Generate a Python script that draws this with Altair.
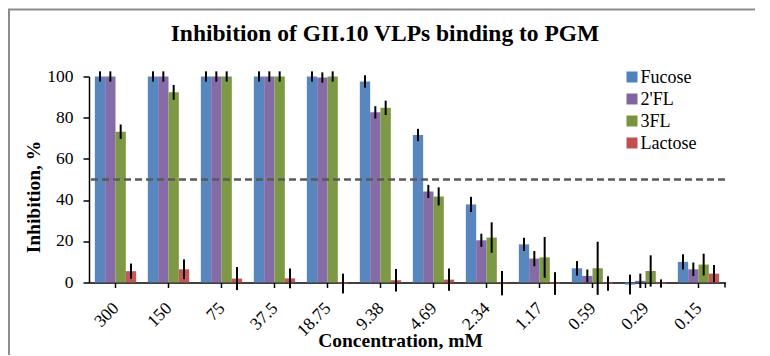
import altair as alt
import pandas as pd

# ---- data ----
concentrations = ["300", "150", "75", "37.5", "18.75", "9.38", "4.69", "2.34", "1.17", "0.59", "0.29", "0.15"]
series_names = ["Fucose", "2'FL", "3FL", "Lactose"]
series_colors = ["#4F81BD", "#8064A2", "#77933C", "#C0504D"]

fucose = [100, 100, 100, 100, 100, 97.6, 71.6, 37.9, 18.5, 6.9, -1.0, 10.0]
fucose_err = [2.5, 2.5, 2.5, 2.5, 2.5, 3.0, 3.0, 3.7, 3.2, 3.5, 4.8, 3.7]
fl2 = [100, 100, 100, 100, 99.5, 82.6, 44.2, 20.5, 11.6, 3.2, 0.8, 6.4]
fl2_err = [2.5, 2.5, 2.5, 2.5, 2.5, 3.0, 3.2, 3.2, 3.7, 3.1, 3.5, 3.3]
fl3 = [73.2, 92.3, 100, 100, 100, 84.8, 41.8, 21.8, 12.2, 6.9, 5.6, 8.7]
fl3_err = [3.5, 3.6, 2.5, 2.5, 2.5, 3.5, 4.4, 7.4, 9.9, 12.9, 7.6, 5.3]
lactose = [5.5, 6.4, 1.9, 2.0, -0.5, 1.1, 1.4, -0.3, -0.5, -0.5, -0.5, 4.3]
lactose_err = [3.7, 4.8, 5.6, 4.8, 4.8, 5.5, 5.4, 5.9, 5.5, 3.5, 2.0, 4.2]

y_ticks = [0, 20, 40, 60, 80, 100]
threshold = [50]
chart_title = "Inhibition of GII.10 VLPs binding to PGM"
x_title = "Concentration, mM"
y_title = "Inhibition, %"

values = [fucose, fl2, fl3, lactose]
errors = [fucose_err, fl2_err, fl3_err, lactose_err]

rows = []
for name, vals, errs in zip(series_names, values, errors):
    for c, v, e in zip(concentrations, vals, errs):
        rows.append({"conc": c, "series": name, "value": v, "lo": v - e, "hi": v + e})
df = pd.DataFrame(rows)

FONT = "Times New Roman, Liberation Serif, DejaVu Serif, serif"
W, H = 636, 206

x_scale = alt.Scale(paddingInner=0.22, paddingOuter=0.11)
y_scale = alt.Scale(domain=[0, 100], nice=False, zero=False)
color_scale = alt.Scale(domain=series_names, range=series_colors)

x_enc = alt.X(
    "conc:N",
    sort=concentrations,
    scale=x_scale,
    axis=alt.Axis(
        title=x_title,
        labels=False,
        tickSize=5,
        tickColor="black",
        tickWidth=1.5,
        domainColor="black",
        domainWidth=1.5,
        titleFont=FONT,
        titleFontSize=19.5,
        titleFontWeight="bold",
        titleColor="black",
        titleX=W / 2 - 7,
        titleY=58,
        titleBaseline="middle",
        titleAlign="center",
    ),
)
xoff = alt.XOffset("series:N", sort=series_names, scale=alt.Scale(paddingInner=0, paddingOuter=0))

y_axis = alt.Axis(
    title=y_title,
    values=y_ticks,
    grid=False,
    labels=False,
    tickSize=6,
    tickColor="black",
    tickWidth=1.5,
    domainColor="black",
    domainWidth=1.5,
    titleFont=FONT,
    titleFontSize=19.5,
    titleFontWeight="bold",
    titleColor="black",
    titleAngle=270,
    titleX=-56,
    titleY=120,
    titleAlign="center",
    titleBaseline="middle",
)

base = alt.Chart(df)

bars = base.mark_bar(opacity=0.95).encode(
    x=x_enc,
    xOffset=xoff,
    y=alt.Y("value:Q", scale=y_scale, axis=y_axis),
    y2=alt.datum(0),
    color=alt.Color("series:N", sort=series_names, scale=color_scale, legend=None),
)

errbars = base.mark_rule(color="black", strokeWidth=2).encode(
    x=alt.X("conc:N", sort=concentrations),
    xOffset=xoff,
    y=alt.Y("lo:Q"),
    y2="hi:Q",
)

dashed = alt.Chart(pd.DataFrame({"t": threshold})).mark_rule(
    color="#595959", strokeWidth=2.5, strokeDash=[7, 4]
).encode(y=alt.Y("t:Q"))

# tick labels drawn as text through the chart scales
x_labels = alt.Chart(pd.DataFrame({"conc": concentrations})).mark_text(
    font=FONT, fontSize=17.5, color="black", angle=315, align="right", baseline="middle", dx=1
).encode(x=alt.X("conc:N", sort=concentrations), y=alt.value(H + 24), text="conc:N")

y_labels = alt.Chart(pd.DataFrame({"t": y_ticks})).mark_text(
    font=FONT, fontSize=17.5, color="black", align="right", baseline="middle"
).encode(y=alt.Y("t:Q"), x=alt.value(-15.5), text=alt.Text("t:Q", format="d"))

end_tick = alt.Chart(pd.DataFrame({"t": threshold})).mark_rule(
    color="black", strokeWidth=1.5
).encode(x=alt.value(W), y=alt.value(H), y2=alt.value(H + 5))

frame = alt.Chart(pd.DataFrame({"t": threshold})).mark_rect(
    fill=None, stroke="#8c8c8c", strokeWidth=2
).encode(x=alt.value(-80), x2=alt.value(W + 60), y=alt.value(-67), y2=alt.value(H + 90))

title_text = alt.Chart(pd.DataFrame({"label": [chart_title]})).mark_text(
    font=FONT, fontSize=23.5, fontWeight="bold", color="black", align="center", baseline="alphabetic"
).encode(x=alt.value(296), y=alt.value(-35.5), text="label:N")

# legend drawn from the series list
legend_df = pd.DataFrame({"series": series_names})
legend_layers = []
for i, name in enumerate(series_names):
    one = alt.Chart(legend_df).transform_filter(alt.datum.series == name)
    legend_layers.append(
        one.mark_square(size=121, opacity=1).encode(
            x=alt.value(543), y=alt.value(0.5 + 22 * i),
            color=alt.Color("series:N", sort=series_names, scale=color_scale, legend=None),
        )
    )
    legend_layers.append(
        one.mark_text(font=FONT, fontSize=18, color="black", align="left", baseline="middle").encode(
            x=alt.value(551.5), y=alt.value(1.5 + 22 * i), text="series:N"
        )
    )

chart = (
    alt.layer(frame, bars, errbars, dashed, end_tick, x_labels, y_labels, title_text, *legend_layers)
    .properties(
        width=W,
        height=H,
        autosize=alt.AutoSizeParams(type="none"),
        padding={"left": 81, "top": 68.5, "right": 30, "bottom": 72},
        background="white",
    )
    .configure_view(stroke=None)
)

chart.save("out.html", embed_options={"renderer": "svg", "actions": False})
